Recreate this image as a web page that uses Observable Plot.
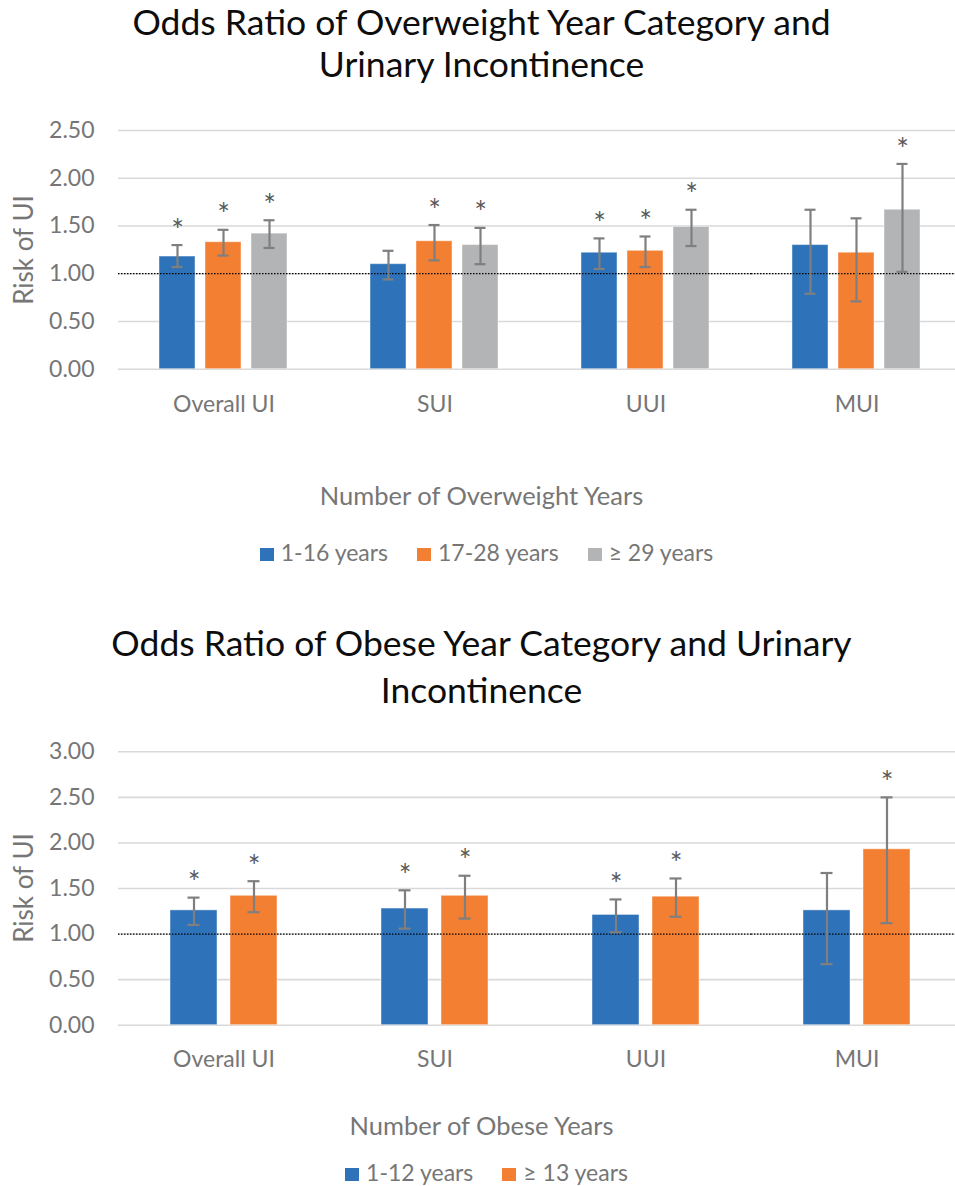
<!DOCTYPE html>
<html>
<head>
<meta charset="utf-8">
<script src="https://cdn.jsdelivr.net/npm/d3@7"></script>
<script src="https://cdn.jsdelivr.net/npm/@observablehq/plot@0.6"></script>
<style>
  html, body { margin: 0; padding: 0; background: #fff; }
  body { font-family: Lato, "Open Sans", sans-serif; }
  #wrap { position: relative; width: 955px; height: 1186px; overflow: hidden; background: #fff; }
  .title { position: absolute; left: 0; width: 963px; text-align: center; font-size: 35.5px; line-height: 20px; color: #0d0d0d; white-space: nowrap; }
  .xlab { position: absolute; left: 0; width: 963px; text-align: center; font-size: 25.5px; line-height: 30px; color: #767676; white-space: nowrap; }
  .legend { position: absolute; left: 0; width: 973px; text-align: center; font-size: 23px; line-height: 28px; color: #767676; white-space: nowrap; }
  .legend .item { display: inline-block; margin: 0 14.5px; }
  .legend .sw { display: inline-block; width: 14px; height: 13px; margin-right: 7px; vertical-align: baseline; }
  .ylab { position: absolute; width: 200px; height: 30px; line-height: 30px; text-align: center; font-size: 26px; color: #767676; transform: rotate(-90deg); transform-origin: 50% 50%; white-space: nowrap; }
  .plot { position: absolute; left: 0; }
  .plot svg { display: block; }
</style>
</head>
<body>
<div id="wrap">
  <div class="title" style="top:11.5px">Odds Ratio of Overweight Year Category and</div>
  <div class="title" style="top:54.3px">Urinary Incontinence</div>
  <div class="ylab" style="left:-77px; top:235px">Risk of UI</div>
  <div class="plot" id="p1" style="top:100px"></div>
  <div class="xlab" style="top:480px">Number of Overweight Years</div>
  <div class="legend" id="leg1" style="top:538px"></div>

  <div class="title" style="top:633px">Odds Ratio of Obese Year Category and Urinary</div>
  <div class="title" style="top:679.5px">Incontinence</div>
  <div class="ylab" style="left:-77px; top:873px">Risk of UI</div>
  <div class="plot" id="p2" style="top:720px"></div>
  <div class="xlab" style="top:1110px">Number of Obese Years</div>
  <div class="legend" id="leg2" style="top:1158.4px"></div>
</div>
<script>
// ---------- data ----------
const categories = ["Overall UI", "SUI", "UUI", "MUI"];

// Chart 1: overweight years
const owSeries = ["1-16 years", "17-28 years", "≥ 29 years"];
const owOR   = [[1.18, 1.33, 1.42], [1.10, 1.34, 1.30], [1.22, 1.24, 1.49], [1.30, 1.22, 1.67]];
const owLow  = [[1.07, 1.19, 1.27], [0.94, 1.14, 1.10], [1.05, 1.07, 1.29], [0.79, 0.71, 1.02]];
const owHigh = [[1.30, 1.46, 1.56], [1.24, 1.51, 1.48], [1.37, 1.39, 1.67], [1.67, 1.58, 2.15]];
const owSig  = [[true, true, true], [false, true, true], [true, true, true], [false, false, true]];
const owTicks = [0, 0.5, 1, 1.5, 2, 2.5];

// Chart 2: obese years
const obSeries = ["1-12 years", "≥ 13 years"];
const obOR   = [[1.26, 1.42], [1.28, 1.42], [1.21, 1.41], [1.26, 1.93]];
const obLow  = [[1.10, 1.24], [1.06, 1.17], [1.02, 1.19], [0.67, 1.12]];
const obHigh = [[1.40, 1.58], [1.48, 1.64], [1.38, 1.61], [1.67, 2.50]];
const obSig  = [[true, true], [true, true], [true, true], [false, true]];
const obTicks = [0, 0.5, 1, 1.5, 2, 2.5, 3];

const palette = ["#2E72B9", "#F37F32", "#B3B4B5"];

function buildRows(series, or, lo, hi, sig) {
  const rows = [];
  categories.forEach((cat, i) => {
    series.forEach((ser, j) => {
      rows.push({cat, ser, or: or[i][j], lo: lo[i][j], hi: hi[i][j], sig: sig[i][j]});
    });
  });
  return rows;
}

function chart(opts) {
  const rows = buildRows(opts.series, opts.or, opts.lo, opts.hi, opts.sig);
  const colors = palette.slice(0, opts.series.length);
  const err = {stroke: "#7f7f7f", strokeWidth: 2.2};
  return Plot.plot({
    width: 955,
    height: opts.height,
    marginLeft: 116,
    marginRight: -8,
    marginTop: opts.marginTop,
    marginBottom: opts.marginBottom,
    style: {fontFamily: "Lato, 'Open Sans', sans-serif", background: "transparent", overflow: "hidden"},
    fx: {domain: categories, padding: 0},
    x: {domain: opts.series, paddingInner: opts.pIn, paddingOuter: opts.pOut, axis: null},
    y: {domain: [0, d3.max(opts.ticks)]},
    color: {domain: opts.series, range: colors},
    marks: [
      Plot.gridY(opts.ticks, {stroke: "#d9d9d9", strokeOpacity: 1, strokeWidth: 1.6}),
      Plot.axisY(opts.ticks, {tickSize: 0, tickPadding: 24, tickFormat: d3.format(".2f"), fontSize: 23, fill: "#767676", label: null}),
      Plot.axisFx({anchor: "bottom", tickSize: 0, tickPadding: opts.fxPad, fontSize: 23, fill: "#767676", label: null}),
      Plot.barY(rows, {fx: "cat", x: "ser", y: "or", fill: "ser", stroke: "white", strokeOpacity: 0.45, strokeWidth: 1}),
      Plot.ruleY([1], {stroke: "#000", strokeDasharray: "1.5,1.5", strokeWidth: 1.2}),
      Plot.ruleX(rows, {fx: "cat", x: "ser", y1: "lo", y2: "hi", ...err}),
      Plot.tickY(rows, {fx: "cat", x: "ser", y: "lo", insetLeft: opts.capInset, insetRight: opts.capInset, ...err}),
      Plot.tickY(rows, {fx: "cat", x: "ser", y: "hi", insetLeft: opts.capInset, insetRight: opts.capInset, ...err}),
      Plot.text(rows.filter(d => d.sig), {fx: "cat", x: "ser", y: "hi", text: () => "*", dy: -14, fontSize: 30, fill: "#595959", lineAnchor: "middle"})
    ]
  });
}

document.getElementById("p1").append(chart({
  series: owSeries, or: owOR, lo: owLow, hi: owHigh, sig: owSig, ticks: owTicks,
  height: 330, marginTop: 30, marginBottom: 61.3, pIn: 0.213, pOut: 0.859, capInset: 12.5, fxPad: 26
}));
document.getElementById("p2").append(chart({
  series: obSeries, or: obOR, lo: obLow, hi: obHigh, sig: obSig, ticks: obTicks,
  height: 360, marginTop: 31.3, marginBottom: 55.3, pIn: 0.2155, pOut: 0.864, capInset: 17.5, fxPad: 25
}));

function legend(id, series) {
  const el = document.getElementById(id);
  series.forEach((s, i) => {
    const item = document.createElement("span");
    item.className = "item";
    const sw = document.createElement("span");
    sw.className = "sw";
    sw.style.background = palette[i];
    item.append(sw, document.createTextNode(s));
    el.append(item);
  });
}
legend("leg1", owSeries);
legend("leg2", obSeries);
</script>
</body>
</html>
